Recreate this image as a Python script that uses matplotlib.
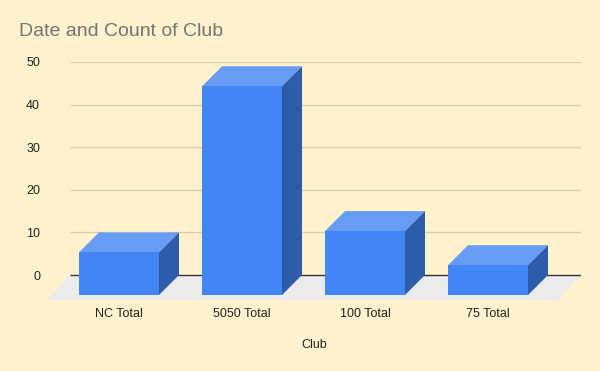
import matplotlib
matplotlib.use("Agg")
import matplotlib.pyplot as plt
from matplotlib.patches import Polygon

categories = ["NC Total", "5050 Total", "100 Total", "75 Total"]
counts = [10, 49, 15, 7]
y_ticks = [0, 10, 20, 30, 40, 50]

plt.rcParams["font.family"] = ["Liberation Sans", "DejaVu Sans"]

BG = "#FFF2CC"
FRONT = "#4285F4"
TOP = "#689DF6"
SIDE = "#2E5CAB"
FLOOR = "#EBEBEB"
GRID = "#DDCDA8"

W, H = 600, 371
fig = plt.figure(figsize=(W / 100, H / 100), dpi=100, facecolor=BG)
# axes box = back wall plus floor depth, in pixels
ax = fig.add_axes([70 / W, (H - 300) / H, 511 / W, 238 / H])
ax.set_facecolor(BG)

px_x = 1 / 123      # one pixel in x data units
px_y = 1 / 4.26     # one pixel in y data units
x0, x1 = -49 * px_x, 462 * px_x
ax.set_xlim(x0, x1)
ax.set_ylim(-25 * px_y, 50)

# floor
floor_dx, floor_dy = 23.5 * px_x, 25 * px_y
ax.add_patch(Polygon([(x0, 0), (x1, 0), (x1 - floor_dx, -floor_dy), (x0 - floor_dx, -floor_dy)],
                     closed=True, fc=FLOOR, ec="none", clip_on=False, zorder=1))

# back wall grid
for v in y_ticks:
    ax.plot([x0, x1], [v, v], color="#333333" if v == 0 else GRID, lw=1, zorder=2,
            solid_capstyle="butt")

# 3D bars
dx, dy = 20 * px_x, 20 * px_y
half = 40 * px_x
for i, c in enumerate(counts):
    l, r = i - half, i + half
    # front plane sits one depth below the back wall
    lo, hi = -dy, c - dy
    ax.add_patch(Polygon([(l, lo), (r, lo), (r, hi), (l, hi)], fc=FRONT, ec="none", zorder=4))
    ax.add_patch(Polygon([(l, hi), (r, hi), (r + dx, hi + dy), (l + dx, hi + dy)], fc=TOP, ec="none", zorder=3))
    ax.add_patch(Polygon([(r, lo), (r + dx, lo + dy), (r + dx, hi + dy), (r, hi)], fc=SIDE, ec="none", zorder=3))

ax.set_xticks(range(len(categories)), categories)
ax.set_yticks(y_ticks)
ax.tick_params(axis="x", length=0, pad=6, labelsize=9, labelcolor="#222222")
ax.tick_params(axis="y", length=0, pad=21.5, labelsize=9, labelcolor="#222222")
for s in ax.spines.values():
    s.set_visible(False)

fig.text(19 / W, 1 - 32 / H, "Date and Count of Club", fontsize=14, color="#757575", va="center", ha="left")
fig.text(314 / W, 1 - 345.5 / H, "Club", fontsize=9, color="#222222", va="center", ha="center")

fig.savefig("out.png", dpi=100, facecolor=BG)
